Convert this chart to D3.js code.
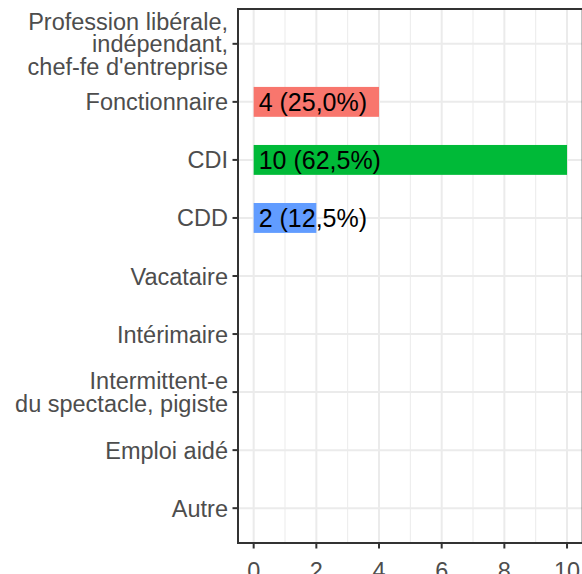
<!DOCTYPE html>
<html>
<head>
<meta charset="utf-8">
<script src="https://cdn.jsdelivr.net/npm/d3@7"></script>
<style>
  body { margin: 0; background: #fff; }
  text { font-family: Arial, "Liberation Sans", sans-serif; }
</style>
</head>
<body>
<svg id="chart" width="582" height="574"></svg>
<script>
// Data
var categories = [
    "Profession libérale,\nindépendant,\nchef-fe d'entreprise",
    "Fonctionnaire",
    "CDI",
    "CDD",
    "Vacataire",
    "Intérimaire",
    "Intermittent-e\ndu spectacle, pigiste",
    "Emploi aidé",
    "Autre"
];
var counts = [0, 4, 10, 2, 0, 0, 0, 0, 0];
var labels = ["", "4 (25,0%)", "10 (62,5%)", "2 (12,5%)", "", "", "", "", ""];
var barColors = ["none", "#F8766D", "#00BA38", "#619CFF", "none", "none", "none", "none", "none"];
var xTicks = [0, 2, 4, 6, 8, 10];

var svg = d3.select("#chart");

var panel = { left: 238, right: 582.7, top: 9, bottom: 543 };

// Scales
var xScale = d3.scaleLinear()
    .domain([-0.5, 10.5])
    .range([panel.left, panel.right]);

var yScale = d3.scalePoint()
    .domain(categories)
    .range([panel.top, panel.bottom])
    .padding(0.6);

var step = yScale.step();
var barHeight = step * 0.515;

// Grid lines
var minorTicks = d3.range(1, 11, 2);
svg.append("g").selectAll("line")
    .data(minorTicks)
    .enter()
    .append("line")
    .attr("x1", d => xScale(d))
    .attr("x2", d => xScale(d))
    .attr("y1", panel.top)
    .attr("y2", panel.bottom)
    .style("stroke", "#EBEBEB")
    .style("stroke-width", 1);

svg.append("g").selectAll("line")
    .data(xTicks)
    .enter()
    .append("line")
    .attr("x1", d => xScale(d))
    .attr("x2", d => xScale(d))
    .attr("y1", panel.top)
    .attr("y2", panel.bottom)
    .style("stroke", "#EBEBEB")
    .style("stroke-width", 2);

svg.append("g").selectAll("line")
    .data(categories)
    .enter()
    .append("line")
    .attr("x1", panel.left)
    .attr("x2", panel.right)
    .attr("y1", d => yScale(d))
    .attr("y2", d => yScale(d))
    .style("stroke", "#EBEBEB")
    .style("stroke-width", 2);

// Bars
svg.append("g").selectAll("rect")
    .data(categories)
    .enter()
    .append("rect")
    .attr("x", xScale(0))
    .attr("y", d => yScale(d) - barHeight / 2)
    .attr("width", (d, i) => xScale(counts[i]) - xScale(0))
    .attr("height", barHeight)
    .style("fill", (d, i) => barColors[i]);

// Bar labels
svg.append("g").selectAll("text")
    .data(categories)
    .enter()
    .append("text")
    .attr("x", xScale(0) + 5)
    .attr("y", d => yScale(d) + 9)
    .attr("font-size", "25px")
    .attr("fill", "#000")
    .text((d, i) => labels[i]);

// Panel border
svg.append("rect")
    .attr("x", panel.left)
    .attr("y", panel.top)
    .attr("width", panel.right - panel.left)
    .attr("height", panel.bottom - panel.top)
    .style("fill", "none")
    .style("stroke", "#333333")
    .style("stroke-width", 2);

// X axis
var xAxis = svg.append("g");
xAxis.selectAll("line")
    .data(xTicks)
    .enter()
    .append("line")
    .attr("x1", d => xScale(d))
    .attr("x2", d => xScale(d))
    .attr("y1", panel.bottom)
    .attr("y2", panel.bottom + 5.5)
    .style("stroke", "#333333")
    .style("stroke-width", 2);
xAxis.selectAll("text")
    .data(xTicks)
    .enter()
    .append("text")
    .attr("x", d => xScale(d))
    .attr("y", panel.bottom + 36)
    .attr("text-anchor", "middle")
    .attr("font-size", "23.5px")
    .attr("fill", "#4D4D4D")
    .text(d => d);

// Y axis
var yAxis = svg.append("g");
yAxis.selectAll("line")
    .data(categories)
    .enter()
    .append("line")
    .attr("x1", panel.left - 5.5)
    .attr("x2", panel.left)
    .attr("y1", d => yScale(d))
    .attr("y2", d => yScale(d))
    .style("stroke", "#333333")
    .style("stroke-width", 2);

var lineHeight = 22.3;
var yLabels = yAxis.selectAll("text")
    .data(categories)
    .enter()
    .append("text")
    .attr("text-anchor", "end")
    .attr("font-size", "23.5px")
    .attr("fill", "#4D4D4D");

yLabels.each(function (d) {
    var lines = d.split("\n");
    var text = d3.select(this);
    var firstBaseline = yScale(d) + 8.5 - (lines.length - 1) * lineHeight / 2;
    lines.forEach(function (line, j) {
        text.append("tspan")
            .attr("x", panel.left - 10)
            .attr("y", firstBaseline + j * lineHeight)
            .text(line);
    });
});
</script>
</body>
</html>
